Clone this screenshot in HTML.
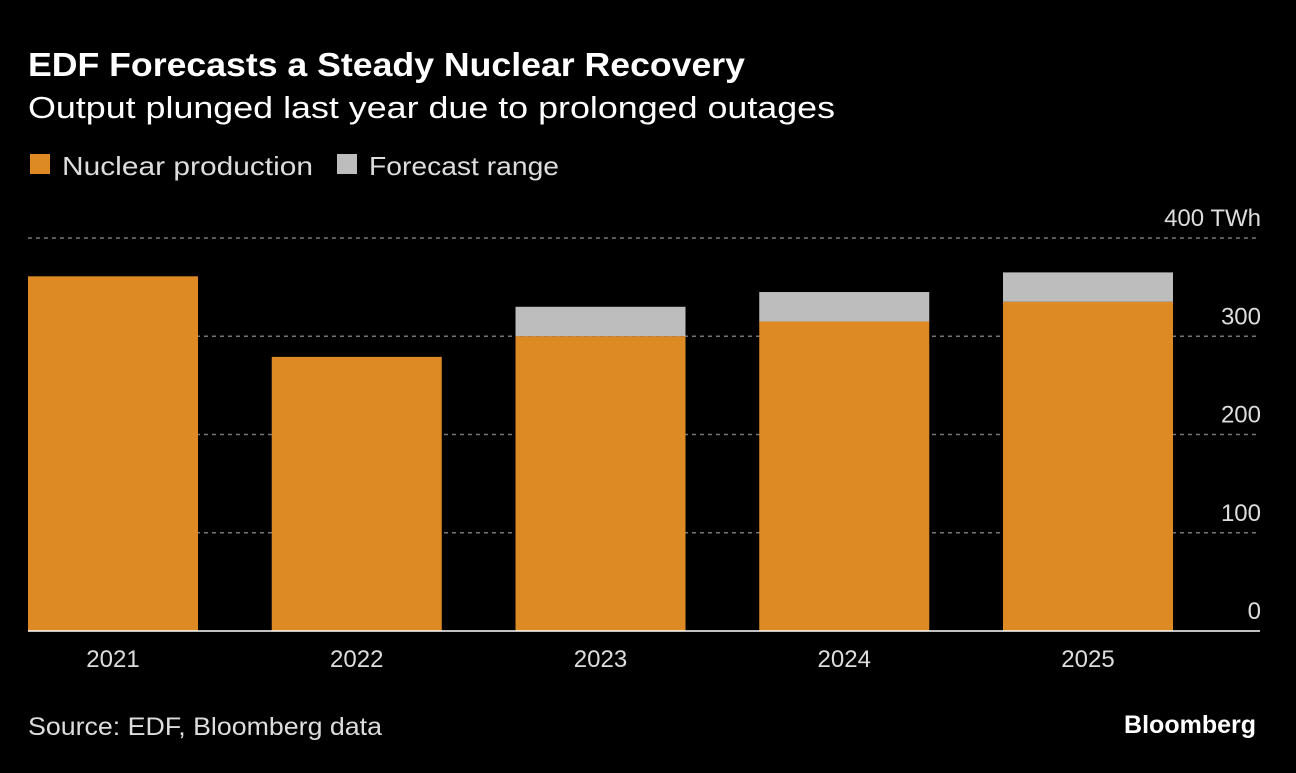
<!DOCTYPE html>
<html><head><meta charset="utf-8"><style>
body{margin:0;background:#000;width:1296px;height:768px;overflow:hidden;font-family:"Liberation Sans",sans-serif;color:#fff}
</style></head><body>
<svg width="1296" height="768" xmlns="http://www.w3.org/2000/svg">
<text x="28" y="76" font-size="33" font-weight="bold" fill="#fff" textLength="717" lengthAdjust="spacingAndGlyphs">EDF Forecasts a Steady Nuclear Recovery</text>
<text x="28" y="118" font-size="31" fill="#fff" textLength="807" lengthAdjust="spacingAndGlyphs">Output plunged last year due to prolonged outages</text>
<g>
<rect x="30" y="154" width="20" height="20" fill="#dd8a25"/>
<text x="62" y="175" font-size="26" fill="#ddd" textLength="251" lengthAdjust="spacingAndGlyphs">Nuclear production</text>
<rect x="337" y="154" width="20" height="20" fill="#bdbdbd"/>
<text x="369" y="175" font-size="26" fill="#ddd" textLength="190" lengthAdjust="spacingAndGlyphs">Forecast range</text>
</g>
<g id="grid"></g><g id="bars"></g><g id="xlab"></g>
<line x1="28" x2="1260" y1="631" y2="631" stroke="#fff" stroke-width="1.5"/>
<text x="28" y="735" font-size="25" fill="#ddd" textLength="354" lengthAdjust="spacingAndGlyphs">Source: EDF, Bloomberg data</text>
<text x="1256" y="733" font-size="25" font-weight="bold" fill="#fff" text-anchor="end">Bloomberg</text>
</svg>
<script>
const categories=["2021","2022","2023","2024","2025"];
const production=[361,279,300,315,335];
const forecastHigh=[null,null,330,345,365];
const ticks=[0,100,200,300,400];
const tickLabels=["0","100","200","300","400 TWh"];
const NS="http://www.w3.org/2000/svg";
const y0=631,pxPer=(631-238)/400;
const y=v=>y0-v*pxPer;
const x=i=>28+i*243.75;
const bw=170;
function mk(t,a,p){const e=document.createElementNS(NS,t);for(const k in a)e.setAttribute(k,a[k]);p.appendChild(e);return e;}
const g=document.getElementById('grid');
ticks.forEach((t,i)=>{
 if(t>0){const l=mk('line',{x1:28,x2:1258,y1:y(t),y2:y(t),stroke:'#777','stroke-dasharray':'4,4','stroke-width':1.5},g);
 
 }
 const tx=mk('text',{x:1261,y:y(t)-12,'font-size':24,fill:'#ddd','text-anchor':'end'},g);
 tx.textContent=tickLabels[i];
 
 
});
const b=document.getElementById('bars'),xl=document.getElementById('xlab');
categories.forEach((c,i)=>{
 if(forecastHigh[i]!=null){const r=mk('rect',{x:x(i),y:y(forecastHigh[i]),width:bw,height:y(production[i])-y(forecastHigh[i]),fill:'#bdbdbd'},b);
 
 }
 const r=mk('rect',{x:x(i),y:y(production[i]),width:bw,height:y0-y(production[i]),fill:'#dd8a25'},b);
 
 
 const t=mk('text',{x:x(i)+bw/2,y:667,'font-size':24,fill:'#ddd','text-anchor':'middle'},xl);
 t.textContent=c;
 
 
});
</script>
</body></html>
